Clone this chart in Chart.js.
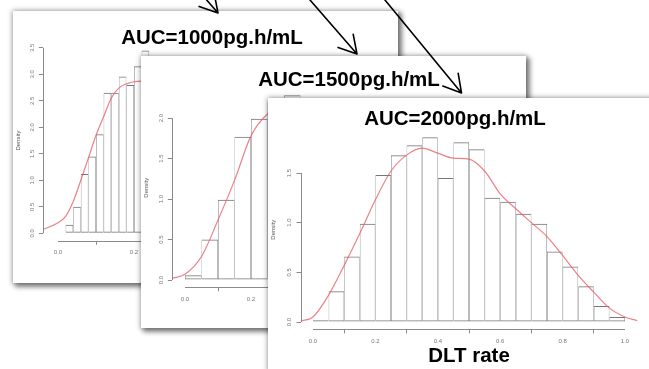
<!DOCTYPE html>
<html><head><meta charset="utf-8">
<script src="https://cdn.jsdelivr.net/npm/chart.js@4.4.0/dist/chart.umd.min.js"></script>
<style>
html,body{margin:0;padding:0;background:#fff;width:649px;height:369px;overflow:hidden;position:relative;font-family:"Liberation Sans",Arial,sans-serif}
.panel{position:absolute;width:385px;height:272px;background:#fff;box-shadow:0 0 5px 1px rgba(0,0,0,0.28),3px 3px 5px 1px rgba(0,0,0,0.45)}
.panel canvas{position:absolute;left:0;top:0}
.ttl{position:absolute;font-weight:bold;font-size:20.5px;font-family:"Liberation Sans",Arial,sans-serif;line-height:1;white-space:nowrap;transform:translate(-50%,-50%);color:#000}
svg{position:absolute;left:0;top:0;z-index:10}
</style></head><body>
<div class="panel" id="p1" style="left:13px;top:11px;z-index:1"><canvas id="c1" width="385" height="272"></canvas><div class="ttl" id="t1" style="left:199px;top:25.5px"></div></div>
<div class="panel" id="p2" style="left:141px;top:56px;z-index:2"><canvas id="c2" width="385" height="272"></canvas><div class="ttl" id="t2" style="left:208px;top:22.5px"></div></div>
<div class="panel" id="p3" style="left:268px;top:98px;z-index:3"><canvas id="c3" width="385" height="272"></canvas><div class="ttl" id="t3" style="left:187px;top:20px"></div></div>
<svg width="649" height="369" viewBox="0 0 649 369">
  <g stroke="#000" stroke-width="1.6" fill="none" stroke-linecap="round" stroke-linejoin="round">
    <path d="M204.1,-3 L218,13 M214.2,-6.6 L218,13 L199.1,6.4"/>
    <path d="M307.4,-3 L357,54 M353.2,34.4 L357,54 L338.1,47.4"/>
    <path d="M382.5,-3 L461.5,93 M458.2,73.3 L461.5,93 L442.8,86"/>
  </g>
</svg>
<script>
// ---- data ----
const titles = ["AUC=1000pg.h/mL", "AUC=1500pg.h/mL", "AUC=2000pg.h/mL"];
const xTitle = "DLT rate";
const yTitle = "Density";

// panel 1 (AUC=1000): histogram bins of width 0.02 starting at 0
const binWidth1 = 0.02;
const hist1 = [0.01, 0.16, 0.50, 1.12, 1.45, 1.87, 2.65, 2.65, 2.96, 2.80, 3.15, 3.45,
               3.30, 3.10, 2.90, 2.60, 2.30, 2.00, 1.70, 1.40, 1.20, 1.00, 0.80, 0.60,
               0.45, 0.30, 0.20, 0.12, 0.06, 0.03];
const densX1 = [-0.04, 0.00, 0.02, 0.04, 0.06, 0.08, 0.10, 0.12, 0.14, 0.16, 0.18, 0.20, 0.22,
                0.26, 0.30, 0.35, 0.40, 0.45, 0.50, 0.55, 0.60, 0.65, 0.70];
const densY1 = [0.07, 0.20, 0.32, 0.60, 1.00, 1.42, 1.85, 2.20, 2.55, 2.74, 2.82, 2.86, 2.87,
                2.75, 2.45, 1.90, 1.30, 0.80, 0.45, 0.22, 0.10, 0.04, 0.01];
const xTicks1 = [0.0, 0.2, 0.4, 0.6, 0.8];
const yTicks1 = [0.0, 0.5, 1.0, 1.5, 2.0, 2.5, 3.0, 3.5];

// panel 2 (AUC=1500): bins of width 0.05
const binWidth2 = 0.05;
const hist2 = [0.06, 0.50, 0.99, 1.77, 1.99, 2.20, 2.28, 2.10, 1.90, 1.60,
               1.30, 1.00, 0.70, 0.45, 0.30, 0.15, 0.08, 0.04, 0.02, 0.01];
const densX2 = [-0.04, 0.00, 0.05, 0.10, 0.15, 0.20, 0.25, 0.30, 0.35, 0.40, 0.45, 0.50,
                0.55, 0.60, 0.65, 0.70, 0.75, 0.80, 0.85, 0.90, 0.95, 1.00];
const densY2 = [0.02, 0.07, 0.29, 0.74, 1.23, 1.78, 2.05, 2.15, 2.10, 1.90, 1.65, 1.35,
                1.05, 0.75, 0.50, 0.30, 0.17, 0.08, 0.03, 0.01, 0.005, 0.0];
const xTicks2 = [0.0, 0.2, 0.4, 0.6, 0.8, 1.0];
const yTicks2 = [0.0, 0.5, 1.0, 1.5, 2.0];

// panel 3 (AUC=2000): bins of width 0.05
const binWidth3 = 0.05;
const hist3 = [0.017, 0.31, 0.66, 0.99, 1.48, 1.68, 1.78, 1.86, 1.45, 1.81,
               1.74, 1.25, 1.21, 1.09, 0.99, 0.71, 0.56, 0.36, 0.16, 0.05];
const densX3 = [-0.04, 0.00, 0.05, 0.10, 0.15, 0.20, 0.25, 0.30, 0.35, 0.40, 0.45, 0.50,
                0.55, 0.60, 0.65, 0.70, 0.75, 0.80, 0.85, 0.90, 0.95, 1.00, 1.04];
const densY3 = [0.01, 0.05, 0.27, 0.57, 0.89, 1.23, 1.52, 1.68, 1.75, 1.70, 1.65, 1.64,
                1.52, 1.29, 1.14, 1.00, 0.86, 0.67, 0.47, 0.30, 0.14, 0.05, 0.013];
const xTicks3 = [0.0, 0.2, 0.4, 0.6, 0.8, 1.0];
const yTicks3 = [0.0, 0.5, 1.0, 1.5];

// ---- drawing ----
document.getElementById('t1').textContent = titles[0];
document.getElementById('t2').textContent = titles[1];
document.getElementById('t3').textContent = titles[2];

const FONT = "'Liberation Sans', Arial, sans-serif";
const AXIS_COLOR = '#8a8a8a';

const rAxes = {
  id: 'rAxes',
  afterDraw(chart) {
    const {ctx, chartArea, scales} = chart;
    const x = scales.x, y = scales.y;
    ctx.save();
    ctx.strokeStyle = AXIS_COLOR;
    ctx.lineWidth = 1;
    ctx.beginPath();
    const xb = Math.round(chartArea.bottom) + 0.5;
    ctx.moveTo(x.getPixelForValue(x.ticks[0].value), xb);
    ctx.lineTo(x.getPixelForValue(x.ticks[x.ticks.length - 1].value), xb);
    const yl = Math.round(chartArea.left) + 0.5;
    ctx.moveTo(yl, y.getPixelForValue(y.ticks[0].value));
    ctx.lineTo(yl, y.getPixelForValue(y.ticks[y.ticks.length - 1].value));
    ctx.stroke();
    ctx.restore();
  }
};

function makeChart(id, cfg) {
  const centers = cfg.hist.map((_, i) => +((i + 0.5) * cfg.binWidth).toFixed(4));
  const barData = cfg.hist.map((v, i) => ({x: centers[i], y: v}));
  const lineData = cfg.densX.map((v, i) => ({x: v, y: cfg.densY[i]}));
  return new Chart(document.getElementById(id), {
    type: 'bar',
    data: {
      datasets: [
        {
          type: 'line', data: lineData, order: 0,
          borderColor: 'rgba(232,96,108,0.8)', borderWidth: 1.2,
          pointRadius: 0, fill: false, cubicInterpolationMode: 'monotone'
        },
        {
          type: 'bar', data: barData, order: 1,
          backgroundColor: 'rgba(255,255,255,0)', borderColor: '#777777',
          borderWidth: {top: 1, bottom: 1, left: 0.5, right: 0.5}, borderSkipped: false,
          categoryPercentage: 1, barPercentage: 1, inflateAmount: 0
        }
      ]
    },
    options: {
      responsive: false, animation: false, devicePixelRatio: 1,
      layout: {padding: {left: 0, right: cfg.padRight, top: cfg.padTop, bottom: 0}},
      plugins: {legend: {display: false}, tooltip: {enabled: false}},
      scales: {
        x: {
          type: 'linear', min: cfg.xMin, max: cfg.xMax, offset: false, bounds: 'data',
          afterBuildTicks: s => { s.ticks = cfg.xTicks.map(v => ({value: v})); },
          afterFit: s => { s.height = cfg.xHeight; },
          ticks: {callback: v => Number(v).toFixed(1), font: {size: 6, family: FONT}, color: '#777',
                  padding: 4.4, maxRotation: 0, minRotation: 0, autoSkip: false},
          grid: {display: true, drawOnChartArea: false, drawTicks: true, tickLength: 4, color: AXIS_COLOR},
          border: {display: false},
          title: {display: cfg.showXTitle, text: xTitle, color: '#000',
                  font: {size: 20.5, weight: 'bold', family: FONT}, padding: {top: 0, bottom: 1}}
        },
        y: {
          type: 'linear', min: cfg.yMin, max: cfg.yMax, bounds: 'data',
          afterBuildTicks: s => { s.ticks = cfg.yTicks.map(v => ({value: v})); },
          afterFit: s => { s.width = cfg.yWidth; },
          ticks: {callback: v => Number(v).toFixed(1), font: {size: 6, family: FONT}, color: '#777',
                  padding: 2.5, minRotation: 90, maxRotation: 90, crossAlign: 'center', autoSkip: false},
          grid: {display: true, drawOnChartArea: false, drawTicks: true, tickLength: 4, color: AXIS_COLOR},
          border: {display: false},
          title: {display: true, text: yTitle, color: '#555', font: {size: 6, family: FONT},
                  padding: {top: 1.4, bottom: 0}}
        }
      }
    },
    plugins: [rAxes]
  });
}

makeChart('c1', {hist: hist1, binWidth: binWidth1, densX: densX1, densY: densY1,
  xTicks: xTicks1, yTicks: yTicks1, xMin: -0.04, xMax: 0.89, yMin: -0.14, yMax: 3.64,
  padTop: 29.4, padRight: 1.8, xHeight: 42.3, yWidth: 29.8, showXTitle: false});
makeChart('c2', {hist: hist2, binWidth: binWidth2, densX: densX2, densY: densY2,
  xTicks: xTicks2, yTicks: yTicks2, xMin: -0.04, xMax: 1.0333, yMin: -0.0912, yMax: 2.371,
  padTop: 32, padRight: 0, xHeight: 40.6, yWidth: 30.8, showXTitle: false});
makeChart('c3', {hist: hist3, binWidth: binWidth3, densX: densX3, densY: densY3,
  xTicks: xTicks3, yTicks: yTicks3, xMin: -0.04, xMax: 1.04, yMin: -0.0744, yMax: 1.934,
  padTop: 31.9, padRight: 15.5, xHeight: 40.6, yWidth: 32.5, showXTitle: true});
</script>
</body></html>
